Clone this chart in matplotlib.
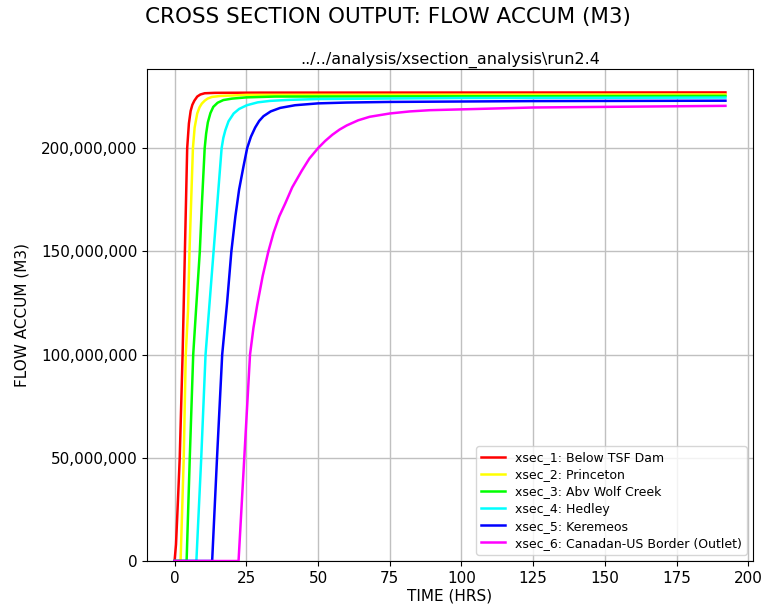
import matplotlib as mpl
mpl.use('Agg')
import matplotlib.pyplot as plt
from matplotlib.ticker import FuncFormatter

# Cumulative flow (millions of m3), per cross section
labels = ['xsec_1: Below TSF Dam', 'xsec_2: Princeton', 'xsec_3: Abv Wolf Creek',
          'xsec_4: Hedley', 'xsec_5: Keremeos', 'xsec_6: Canadan-US Border (Outlet)']
colors = ['#ff0000', '#ffff00', '#00ff00', '#00ffff', '#0000ff', '#ff00ff']

t1 = [0, 0.5, 1.2, 1.8, 2.8, 3.6, 4.0, 4.4, 5.0, 5.6, 6.2, 6.9, 7.9, 9.0, 10.5,
      14, 30, 192]
v1 = [0, 8, 30, 50, 100, 150, 175, 200, 212, 218, 221, 223, 225, 226, 226.6,
      226.8, 226.9, 227.0]

t2 = [0, 2.1, 3.2, 3.9, 4.7, 5.2, 5.8, 6.4, 7.0, 7.9, 8.7, 9.5, 10.5, 11.5, 13,
      16, 25, 192]
v2 = [0, 0, 50, 100, 121.5, 150, 175, 200, 210, 216.8, 219.8, 221.6, 223, 224,
      224.8, 225.3, 225.8, 226.0]

t3 = [0, 4.2, 5.3, 6.5, 7.5, 8.8, 9.6, 10.5, 11.0, 11.6, 12.5, 13.5, 15, 17, 20,
      25, 35, 192]
v3 = [0, 0, 50, 100, 122, 150, 175, 200, 207, 212.5, 217, 220, 222, 223.3, 224,
      224.6, 225, 225.3]

t4 = [0, 7.6, 9.3, 10.8, 12.2, 13.6, 15.0, 16.4, 17.0, 17.7, 18.8, 20.6, 22.5,
      25.2, 29, 33.3, 40, 50, 100, 192]
v4 = [0, 0, 50, 100, 125, 150, 175, 200, 205, 208.7, 213, 216.8, 219, 220.8,
      222.2, 222.9, 223.4, 223.8, 224.3, 224.5]

t5 = [0, 13.1, 14.8, 16.6, 18.3, 19.8, 21.2, 22.5, 24.0, 25.3, 26.6, 28.1, 29.5,
      31, 33.5, 36.8, 42, 50, 60, 75, 125, 192]
v5 = [0, 0, 50, 100, 125, 150, 167, 180, 191, 200, 205.5, 210, 213.2, 215.5,
      217.8, 219.5, 220.8, 221.7, 222.1, 222.4, 222.8, 223.0]

t6 = [0, 22.3, 24.3, 26.3, 27.5, 28.8, 30.7, 32.7, 34.5, 36.5, 38.5, 41, 44.3, 47,
      50, 52.5, 55, 57.5, 60, 64, 68, 75, 82, 89, 125, 192]
v6 = [0, 0, 50, 100, 113, 124, 138, 150, 159, 167, 173, 181, 189, 195,
      200, 203.5, 206.5, 209, 211, 213.5, 215.2, 216.8, 217.8, 218.4, 219.7, 220.5]

times = [t1, t2, t3, t4, t5, t6]
flows = [v1, v2, v3, v4, v5, v6]

fig = plt.figure(figsize=(7.75, 6.09), dpi=100)
ax = fig.add_axes([0.1897, 0.0788, 0.7819, 0.8079])

for t, v, c, lab in zip(times, flows, colors, labels):
    ax.plot(t, [x * 1e6 for x in v], color=c, linewidth=1.8, label=lab)

ax.set_ylim(bottom=0)
ax.yaxis.set_major_formatter(FuncFormatter(lambda y, pos: '{:,.0f}'.format(y)))
ax.grid(True, color='#c0c0c0', linewidth=1.0)
ax.tick_params(labelsize=11)

ax.set_xlabel('TIME (HRS)', fontsize=11, labelpad=2)
ax.set_ylabel('FLOW ACCUM (M3)', fontsize=11, labelpad=8)
ax.set_title('../../analysis/xsection_analysis\\run2.4', fontsize=11.5, pad=4)
fig.suptitle('CROSS SECTION OUTPUT: FLOW ACCUM (M3)', fontsize=15.5, y=0.988)

ax.legend(loc='lower right', fontsize=9, labelspacing=0.33, handlelength=1.9)

fig.savefig('out.png', dpi=100)
plt.close('all')
